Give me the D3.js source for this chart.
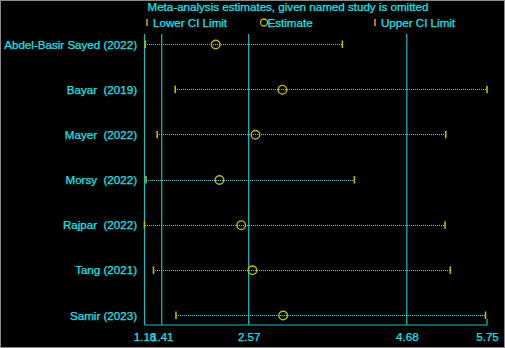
<html lang="en">
<head>
  <meta http-equiv="Content-Type" content="text/html; charset=utf-8" />
  <script src="https://d3js.org/d3.v7.min.js"></script>
  <style>
    body { margin: 0; background: #000; }
    text { white-space: pre; stroke: #22e0ea; stroke-width: 0.25px; }
  </style>
</head>
<body>
  <div id="chart"></div>
  <script>
    'use strict';
    const studies = ["Abdel-Basir Sayed (2022)", "Bayar  (2019)", "Mayer  (2022)", "Morsy  (2022)",
                     "Rajpar  (2022)", "Tang (2021)", "Samir (2023)"];
    const lower = [1.19, 1.59, 1.35, 1.20, 1.18, 1.30, 1.60];
    const estimate = [2.13, 3.02, 2.66, 2.18, 2.47, 2.62, 3.03];
    const upper = [3.82, 5.75, 5.20, 3.98, 5.19, 5.26, 5.73];
    const ticks = [1.18, 1.41, 2.57, 4.68, 5.75];
    const refLines = [1.18, 1.41, 2.57, 4.68];

    const width = 505, height = 348;
    const textColor = "#22e0ea";
    const lineColor = "#1fbcc4";
    const dotColor = "#2ad4dc";
    const markColor = "#bcbc00";
    const font = "Liberation Sans, Arial, sans-serif";
    const fs = "11.6px";

    const svg = d3.select("#chart").append("svg")
      .attr("width", width).attr("height", height)
      .style("font-family", font);

    svg.append("rect")
      .attr("x", 0.5).attr("y", 0.5)
      .attr("width", width - 1).attr("height", height - 1)
      .attr("fill", "#000").attr("stroke", "#8a8a8a");

    const x = d3.scaleLinear().domain([1.18, 5.75]).range([144.5, 487]);
    const y = d3.scalePoint().domain(studies).range([44, 315]);
    const axisY = 325;

    // title + legend
    svg.append("text").attr("x", 288).attr("y", 11)
      .attr("text-anchor", "middle").attr("fill", textColor)
      .style("font-size", fs)
      .text("Meta-analysis estimates, given named study is omitted");

    const legend = svg.append("g").attr("transform", "translate(0,23)");
    [[147, "Lower CI Limit", "bar"], [261, "Estimate", "circle"], [375, "Upper CI Limit", "bar"]]
      .forEach(([lx, label, kind]) => {
        if (kind === "bar") {
          legend.append("line").attr("x1", lx).attr("x2", lx).attr("y1", -4).attr("y2", 3)
            .attr("stroke", markColor).attr("stroke-width", 1.5);
        } else {
          legend.append("circle").attr("cx", lx + 3).attr("cy", -0.5).attr("r", 3.5)
            .attr("fill", "none").attr("stroke", markColor).attr("stroke-width", 1.3);
        }
        legend.append("text").attr("x", kind === "bar" ? lx + 6 : lx + 6.5).attr("y", 4)
          .attr("fill", textColor).style("font-size", fs).text(label);
      });

    // reference lines
    svg.selectAll(".ref").data(refLines).join("line")
      .attr("x1", d => x(d)).attr("x2", d => x(d))
      .attr("y1", 34).attr("y2", axisY)
      .attr("stroke", lineColor).attr("stroke-width", 1.2);

    // axis
    const axis = d3.axisBottom(x).tickValues(ticks).tickSize(0).tickFormat(d3.format(".2f"));
    const ag = svg.append("g").attr("transform", `translate(0,${axisY})`).call(axis);
    ag.select(".domain").remove();
    ag.selectAll("text").attr("fill", textColor).attr("dy", "1.1em")
      .style("font-size", fs).style("font-family", font);
    ag.append("path")
      .attr("d", `M${x(1.18)},0H${x(5.75)}V-6`)
      .attr("fill", "none").attr("stroke", lineColor).attr("stroke-width", 1.2);

    // rows
    const rows = svg.selectAll(".row").data(studies).join("g")
      .attr("transform", d => `translate(0,${y(d)})`);

    rows.append("text").attr("x", 137).attr("y", 4.5)
      .attr("text-anchor", "end").attr("fill", textColor)
      .style("font-size", fs).text(d => d);

    rows.append("line")
      .attr("x1", (d, i) => Math.round(x(lower[i]))).attr("x2", (d, i) => Math.round(x(upper[i])))
      .attr("y1", 0.5).attr("y2", 0.5)
      .attr("stroke", dotColor).attr("stroke-width", 1)
      .attr("stroke-dasharray", "1,1")
      .attr("shape-rendering", "crispEdges");

    rows.append("line")
      .attr("x1", (d, i) => x(lower[i])).attr("x2", (d, i) => x(lower[i]))
      .attr("y1", -3.5).attr("y2", 4)
      .attr("stroke", markColor).attr("stroke-width", 1.6);
    rows.append("line")
      .attr("x1", (d, i) => x(upper[i])).attr("x2", (d, i) => x(upper[i]))
      .attr("y1", -3.5).attr("y2", 4)
      .attr("stroke", markColor).attr("stroke-width", 1.6);

    rows.append("circle")
      .attr("cx", (d, i) => x(estimate[i])).attr("cy", 0.5).attr("r", 4.3)
      .attr("fill", "none").attr("stroke", markColor).attr("stroke-width", 1.4);
  </script>
</body>
</html>
